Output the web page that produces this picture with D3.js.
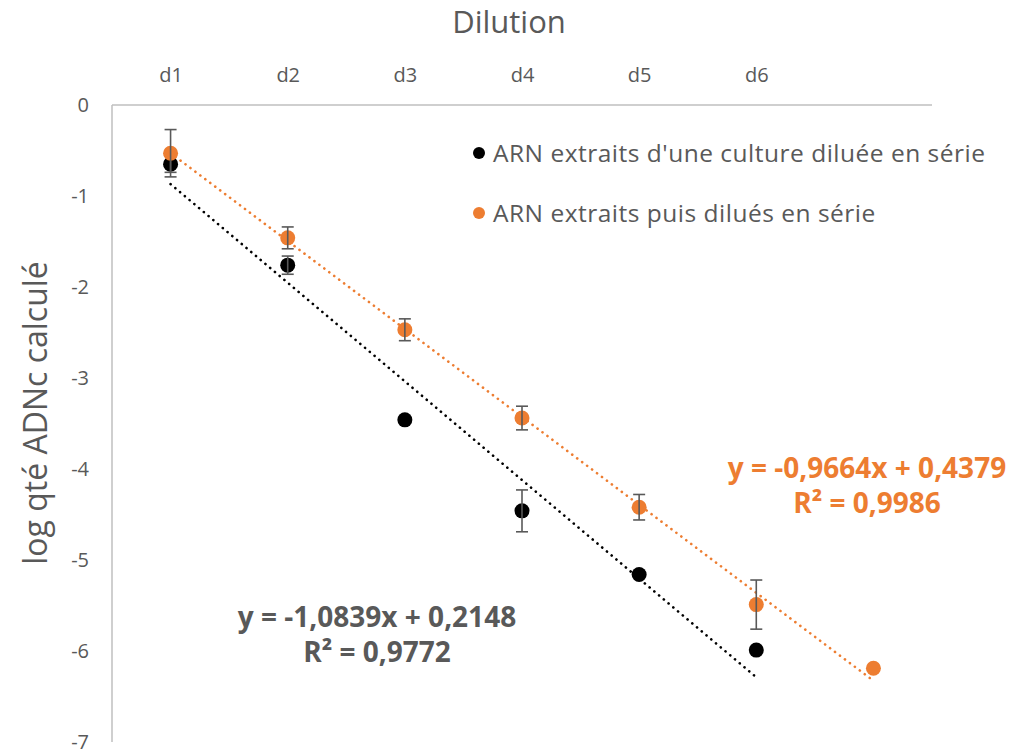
<!DOCTYPE html>
<html>
<head>
<meta charset="utf-8">
<script src="https://cdn.jsdelivr.net/npm/d3@7"></script>
<style>
  html, body { margin: 0; padding: 0; background: #fff; }
  svg { display: block; font-family: "Open Sans", "Noto Sans", sans-serif; }
</style>
</head>
<body>
<svg id="chart" width="1011" height="749"></svg>
<script>
// Dilution categories (the 7th dilution point carries no label)
const categories = ["d1", "d2", "d3", "d4", "d5", "d6", ""];
const yTicks = [0, -1, -2, -3, -4, -5, -6, -7];

// RNA extracted from a serially diluted culture
const cultureValues = [-0.65, -1.76, -3.46, -4.46, -5.16, -5.99];
const cultureErrors = [0.09, 0.10, 0, 0.23, 0, 0];

// RNA extracted then serially diluted
const extractValues = [-0.53, -1.46, -2.47, -3.44, -4.42, -5.49, -6.19];
const extractErrors = [0.26, 0.12, 0.12, 0.13, 0.14, 0.27, 0];

// Linear trend lines (slope, intercept, R²)
const cultureFit = { slope: -1.0839, intercept: 0.2148, r2: 0.9772 };
const extractFit = { slope: -0.9664, intercept: 0.4379, r2: 0.9986 };

const seriesNames = [
  "ARN extraits d'une culture diluée en série",
  "ARN extraits puis dilués en série"
];

const BLACK = "#000000";
const ORANGE = "#ED7D31";
const TEXT = "#595959";
const AXIS = "#BFBFBF";
const ERR = "#595959";

const svg = d3.select("#chart");
const plot = { left: 112, right: 932, top: 105, bottom: 742 };

const x = d3.scaleLinear().domain([0.5, categories.length + 0.5]).range([plot.left, plot.right]);
const y = d3.scaleLinear().domain([0, -7]).range([plot.top, plot.bottom]);

const fmt = v => v.toFixed(4).replace(".", ",");

// Category axis along the top
const xAxis = svg.append("g")
  .attr("transform", `translate(0,${plot.top})`)
  .call(d3.axisTop(x)
    .tickValues(d3.range(1, categories.length + 1))
    .tickFormat(i => categories[i - 1])
    .tickSize(0)
    .tickPadding(23));
xAxis.select(".domain").attr("stroke", AXIS).attr("stroke-width", 1.5).attr("d", `M${plot.left},0H${plot.right}`);
xAxis.selectAll("text").attr("fill", TEXT).attr("font-size", 20).attr("font-family", "Open Sans");

// Value axis on the left
const yAxis = svg.append("g")
  .attr("transform", `translate(${plot.left},0)`)
  .call(d3.axisLeft(y).tickValues(yTicks).tickFormat(d => String(d)).tickSize(0).tickPadding(23));
yAxis.select(".domain").attr("stroke", AXIS).attr("stroke-width", 1.5).attr("d", `M0,${plot.top}V${plot.bottom}`);
yAxis.selectAll("text").attr("fill", TEXT).attr("font-size", 20).attr("font-family", "Open Sans");

// Axis titles
svg.append("text")
  .attr("x", 509).attr("y", 33)
  .attr("text-anchor", "middle")
  .attr("fill", TEXT).attr("font-size", 31)
  .text("Dilution");

svg.append("text")
  .attr("transform", `translate(47,413) rotate(-90)`)
  .attr("text-anchor", "middle")
  .attr("fill", TEXT).attr("font-size", 32)
  .text("log qté ADNc calculé");

// Dotted trend lines
function trend(fit, n, color) {
  const pts = [1, n].map(i => [x(i), y(fit.slope * i + fit.intercept)]);
  svg.append("path")
    .attr("d", d3.line()(pts))
    .attr("fill", "none")
    .attr("stroke", color)
    .attr("stroke-width", 2.6)
    .attr("stroke-linecap", "round")
    .attr("stroke-dasharray", "0.1 6.1");
}
trend(cultureFit, cultureValues.length, BLACK);
trend(extractFit, extractValues.length, ORANGE);

// Error bars
function errorBars(values, errors) {
  const g = svg.append("g").attr("stroke", ERR).attr("stroke-width", 1.6).attr("fill", "none");
  values.forEach((v, i) => {
    const e = errors[i];
    if (!e) return;
    const cx = x(i + 1);
    const y1 = y(v + e), y2 = y(v - e);
    g.append("line").attr("x1", cx).attr("x2", cx).attr("y1", y1).attr("y2", y2);
    g.append("line").attr("x1", cx - 6).attr("x2", cx + 6).attr("y1", y1).attr("y2", y1);
    g.append("line").attr("x1", cx - 6).attr("x2", cx + 6).attr("y1", y2).attr("y2", y2);
  });
}

// Markers
function markers(values, color) {
  svg.append("g").selectAll("circle").data(values).join("circle")
    .attr("cx", (d, i) => x(i + 1))
    .attr("cy", d => y(d))
    .attr("r", 7.5)
    .attr("fill", color);
}

markers(cultureValues, BLACK);
errorBars(cultureValues, cultureErrors);
markers(extractValues, ORANGE);
errorBars(extractValues, extractErrors);

// Legend
const legend = svg.append("g");
[[BLACK, seriesNames[0], 153], [ORANGE, seriesNames[1], 213]].forEach(([c, label, ly]) => {
  legend.append("circle").attr("cx", 479).attr("cy", ly).attr("r", 6).attr("fill", c);
  legend.append("text").attr("x", 493).attr("y", ly + 9)
    .attr("fill", TEXT).attr("font-size", 24.5).attr("letter-spacing", 0.5).text(label);
});

// Equation labels
function equation(fit, cx, cy, color) {
  const sign = fit.intercept >= 0 ? "+" : "-";
  const g = svg.append("g").attr("text-anchor", "middle").attr("font-weight", "bold")
    .attr("fill", color).attr("font-size", 28);
  g.append("text").attr("x", cx).attr("y", cy)
    .text(`y = ${fmt(fit.slope)}x ${sign} ${fmt(Math.abs(fit.intercept))}`);
  g.append("text").attr("x", cx).attr("y", cy + 35)
    .text(`R² = ${fmt(fit.r2)}`);
}
equation(cultureFit, 377, 627, TEXT);
equation(extractFit, 867, 478, ORANGE);
</script>
</body>
</html>
